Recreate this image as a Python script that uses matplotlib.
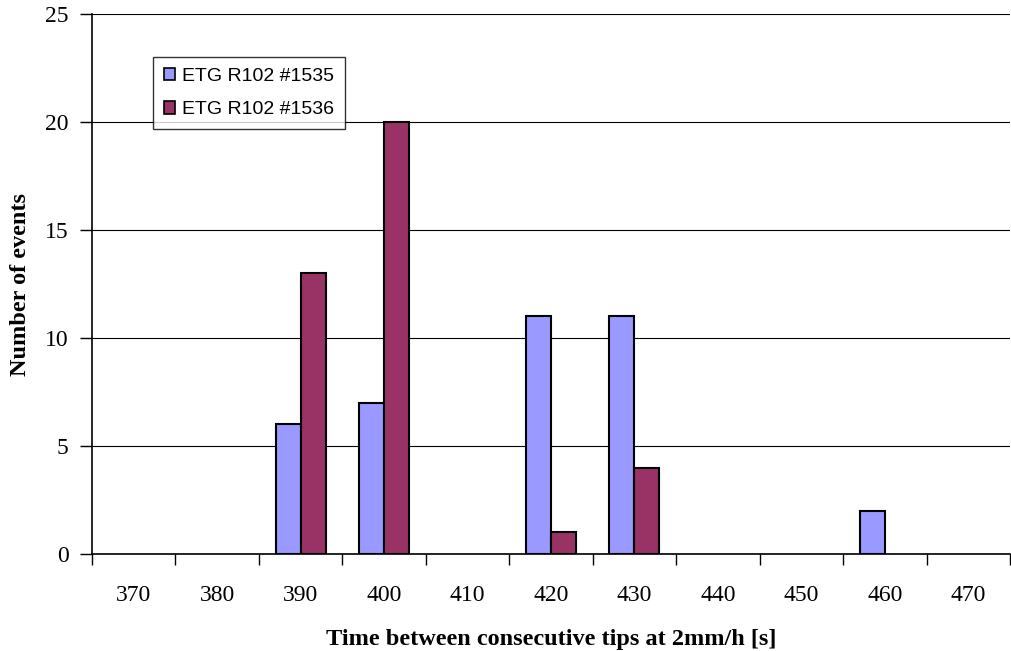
import matplotlib.pyplot as plt
import numpy as np

# dados
categorias = ['370', '380', '390', '400', '410', '420', '430', '440', '450', '460', '470']
serie_1535 = [0, 0, 6, 7, 0, 11, 11, 0, 0, 2, 0]
serie_1536 = [0, 0, 13, 20, 0, 1, 4, 0, 0, 0, 0]
nomes = ['ETG R102 #1535', 'ETG R102 #1536']
cores = ['#9999FF', '#993366']

fig = plt.figure(figsize=(10.12, 6.51), dpi=100)
ax = fig.add_axes([92/1012, 97/651, 918/1012, 540/651])

x = np.arange(len(categorias))
larg = 0.3
for i, (serie, cor, nome) in enumerate(zip([serie_1535, serie_1536], cores, nomes)):
  xs = x + (i - 0.5) * larg
  # so desenha barras com valor > 0
  mask = np.array(serie) > 0
  ax.bar(xs[mask], np.array(serie)[mask], width=larg, color=cor,
         edgecolor='black', linewidth=1.5, label=nome, zorder=3)

ax.set_xlim(-0.5, len(categorias) - 0.5)
ax.set_ylim(0, 25)
ax.set_yticks(range(0, 26, 5))
ax.yaxis.grid(True, color='black', linewidth=0.8, zorder=0)

ax.set_xticks(x)
ax.set_xticklabels(categorias, fontfamily='Liberation Serif', fontsize=17)
ax.set_xticks(np.arange(-0.5, len(categorias)), minor=True)
ax.tick_params(axis='x', which='major', length=0, pad=22)
ax.tick_params(axis='x', which='minor', length=8, width=1, direction='out')
ax.tick_params(axis='y', length=9, width=1, direction='out', pad=8)
for t in ax.get_yticklabels():
  t.set_fontfamily('Liberation Serif')
  t.set_fontsize(17)

ax.spines['top'].set_visible(False)
ax.spines['right'].set_visible(False)
ax.spines['left'].set_linewidth(1.2)
ax.spines['bottom'].set_linewidth(1.2)

ax.set_xlabel('Time between consecutive tips at 2mm/h [s]', fontfamily='Liberation Serif',
              fontsize=17.5, fontweight='bold', labelpad=17)
ax.set_ylabel('Number of events', fontfamily='Liberation Serif',
              fontsize=17.5, fontweight='bold', labelpad=10)

leg = ax.legend(loc='upper left', bbox_to_anchor=(153/1012, 1 - 57/651),
                bbox_transform=fig.transFigure, prop={'family': 'Liberation Sans', 'size': 14},
                frameon=True, fancybox=False, handlelength=0.6, handleheight=0.6,
                handletextpad=0.35, borderpad=0.55, labelspacing=0.85, borderaxespad=0)
leg.get_frame().set_edgecolor('black')
leg.get_frame().set_linewidth(1)
for h in leg.legend_handles:
  h.set_linewidth(1.2)

fig.savefig('out.png', dpi=100)
